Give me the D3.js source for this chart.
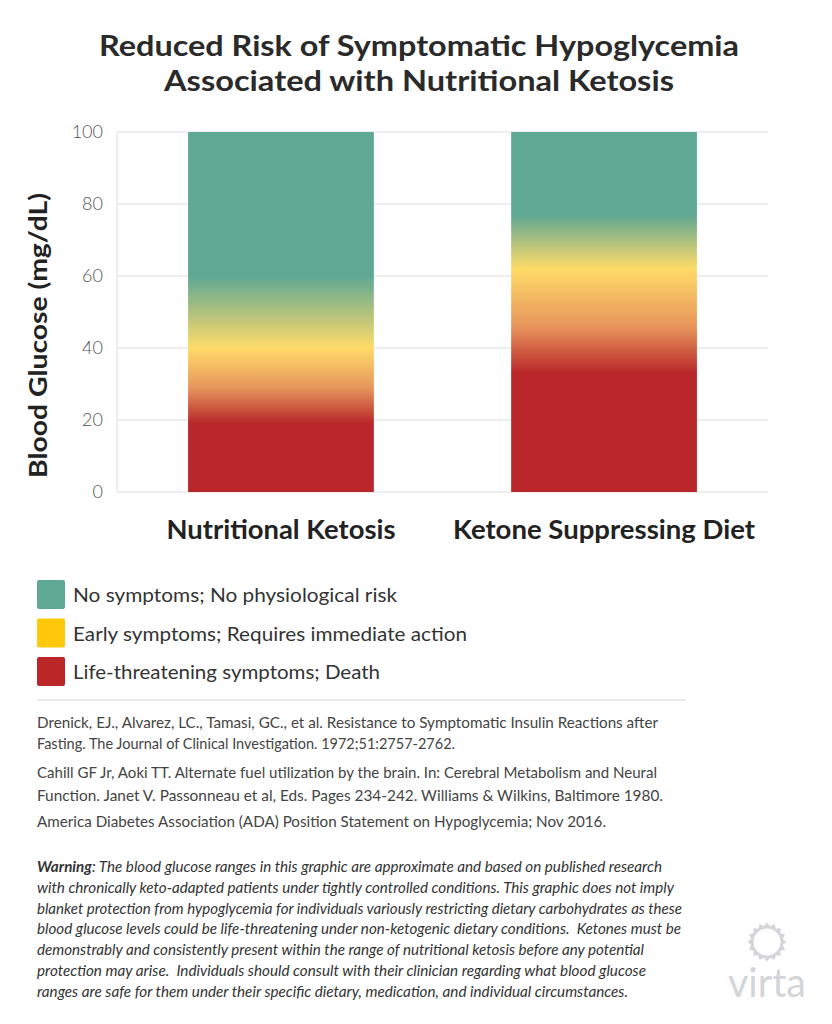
<!DOCTYPE html>
<html>
<head>
<meta charset="utf-8">
<script src="https://cdn.jsdelivr.net/npm/d3@7"></script>
<style>
  body { margin: 0; background: #fff; }
  svg { display: block; }
  text { white-space: pre; }
</style>
</head>
<body>
<svg id="chart" width="832" height="1024"></svg>
<script>
const titleLines = ["Reduced Risk of Symptomatic Hypoglycemia", "Associated with Nutritional Ketosis"];
const categories = ["Nutritional Ketosis", "Ketone Suppressing Diet"];
const barTop = [100, 100];
// glucose level where each zone colour is fully reached
const safeFrom = [60, 77];      // teal above this
const earlyAt = [40, 62];       // yellow peak
const warnAt = [29, 46];        // orange
const dangerBelow = [19, 33];   // red below this
const yTicks = [0, 20, 40, 60, 80, 100];
const yLabel = "Blood Glucose (mg/dL)";
const legendLabels = [
  "No symptoms; No physiological risk",
  "Early symptoms; Requires immediate action",
  "Life-threatening symptoms; Death"
];
const references = [
  ["Drenick, EJ., Alvarez, LC., Tamasi, GC., et al. Resistance to Symptomatic Insulin Reactions after",
   "Fasting. The Journal of Clinical Investigation. 1972;51:2757-2762."],
  ["Cahill GF Jr, Aoki TT. Alternate fuel utilization by the brain. In: Cerebral Metabolism and Neural",
   "Function. Janet V. Passonneau et al, Eds. Pages 234-242. Williams & Wilkins, Baltimore 1980."],
  ["America Diabetes Association (ADA) Position Statement on Hypoglycemia; Nov 2016."]
];
const warningLines = [
  ": The blood glucose ranges in this graphic are approximate and based on published research",
  "with chronically keto-adapted patients under tightly controlled conditions. This graphic does not imply",
  "blanket protection from hypoglycemia for individuals variously restricting dietary carbohydrates as these",
  "blood glucose levels could be life-threatening under non-ketogenic dietary conditions.  Ketones must be",
  "demonstrably and consistently present within the range of nutritional ketosis before any potential",
  "protection may arise.  Individuals should consult with their clinician regarding what blood glucose",
  "ranges are safe for them under their specific dietary, medication, and individual circumstances."
];

const colors = { safe: "#5fa894", early: "#ffdb68", warn: "#e8965c", danger: "#b9272a" };
const legendColors = ["#5fa894", "#ffc80a", "#bb2629"];

const svg = d3.select("#chart");
const font = "Lato, 'Open Sans', sans-serif";

// fit text to a measured width from the picture
function fit(sel, w) {
  sel.attr("textLength", w).attr("lengthAdjust", "spacingAndGlyphs");
}

// title
const titleWidths = [640, 510];
titleLines.forEach((t, i) => {
  svg.append("text")
    .attr("x", 419).attr("y", 56 + i * 35)
    .attr("text-anchor", "middle")
    .style("font-family", font).style("font-weight", 700).style("font-size", "29px")
    .style("fill", "#2a2a2a")
    .text(t)
    .call(fit, titleWidths[i]);
});

const x = d3.scaleBand().domain(categories).range([117, 768]).paddingInner(0.425).paddingOuter(0.22);
const y = d3.scaleLinear().domain([0, 100]).range([492, 132]);

// grid
svg.append("g")
  .selectAll("line")
  .data(yTicks)
  .join("line")
  .attr("x1", 117).attr("x2", 768)
  .attr("y1", d => y(d)).attr("y2", d => y(d))
  .attr("stroke", "#dedede").attr("stroke-width", 1);

svg.append("line")
  .attr("x1", 117).attr("x2", 117)
  .attr("y1", y(0)).attr("y2", y(100))
  .attr("stroke", "#dedede");

const yAxis = svg.append("g")
  .attr("transform", "translate(117,0)")
  .call(d3.axisLeft(y).tickValues(yTicks).tickSize(0).tickPadding(14));
yAxis.select(".domain").remove();
yAxis.selectAll("text")
  .style("font-family", font).style("font-weight", 300).style("font-size", "18px")
  .style("fill", "#555");

svg.append("text")
  .attr("transform", `translate(47,${(193 + 478) / 2}) rotate(-90)`)
  .attr("text-anchor", "middle")
  .style("font-family", font).style("font-weight", 700).style("font-size", "25px")
  .style("fill", "#222")
  .text(yLabel)
  .call(fit, 285);

// gradients per bar
const defs = svg.append("defs");
categories.forEach((c, i) => {
  const stops = [
    [barTop[i], colors.safe],
    [safeFrom[i], colors.safe],
    [earlyAt[i], colors.early],
    [warnAt[i], colors.warn],
    [dangerBelow[i], colors.danger],
    [0, colors.danger]
  ];
  defs.append("linearGradient")
    .attr("id", "grad" + i)
    .attr("gradientUnits", "userSpaceOnUse")
    .attr("x1", 0).attr("x2", 0)
    .attr("y1", y(100)).attr("y2", y(0))
    .selectAll("stop")
    .data(stops)
    .join("stop")
    .attr("offset", d => (100 - d[0]) / 100)
    .attr("stop-color", d => d[1]);
});

svg.append("g")
  .selectAll("rect")
  .data(categories)
  .join("rect")
  .attr("x", d => x(d))
  .attr("width", x.bandwidth())
  .attr("y", (d, i) => y(barTop[i]))
  .attr("height", (d, i) => y(0) - y(barTop[i]))
  .attr("fill", (d, i) => `url(#grad${i})`);

// x labels
const xLabelWidths = [229, 302];
svg.append("g")
  .selectAll("text")
  .data(categories)
  .join("text")
  .attr("x", d => x(d) + x.bandwidth() / 2)
  .attr("y", 539)
  .attr("text-anchor", "middle")
  .style("font-family", font).style("font-weight", 700).style("font-size", "27px")
  .style("fill", "#222")
  .text(d => d)
  .each(function (d, i) { d3.select(this).call(fit, xLabelWidths[i]); });

// legend
const legendWidths = [324, 394, 307];
const legend = svg.append("g")
  .selectAll("g")
  .data(legendLabels)
  .join("g")
  .attr("transform", (d, i) => `translate(37,${580 + i * 38.5})`);
legend.append("rect")
  .attr("width", 28).attr("height", 29).attr("rx", 2)
  .attr("fill", (d, i) => legendColors[i]);
legend.append("text")
  .attr("x", 36).attr("y", 22)
  .style("font-family", font).style("font-weight", 400).style("font-size", "20px")
  .style("fill", "#333")
  .text(d => d)
  .each(function (d, i) { d3.select(this).call(fit, legendWidths[i]); });

svg.append("line")
  .attr("x1", 37).attr("x2", 686).attr("y1", 700).attr("y2", 700)
  .attr("stroke", "#d8d8d8");

// references
const refWidths = [[621, 418], [620, 626], [569]];
const refY = [[728, 749], [778, 801], [827]];
references.forEach((ref, i) => {
  ref.forEach((line, j) => {
    svg.append("text")
      .attr("x", 37).attr("y", refY[i][j])
      .style("font-family", font).style("font-weight", 400).style("font-size", "15px")
      .style("fill", "#444")
      .text(line)
      .call(fit, refWidths[i][j]);
  });
});

// warning
const warnWidths = [625, 637, 645, 644, 607, 609, 591];
warningLines.forEach((line, i) => {
  const t = svg.append("text")
    .attr("x", 37).attr("y", 872 + i * 20.8)
    .style("font-family", font).style("font-style", "italic").style("font-size", "14.5px")
    .style("fill", "#333");
  if (i === 0) {
    t.append("tspan").style("font-weight", 700).text("Warning");
    t.append("tspan").text(line);
  } else {
    t.text(line);
  }
  t.call(fit, warnWidths[i]);
});

// virta logo
const logo = svg.append("g").attr("transform", "translate(767,942)");
const nPts = 16;
const starPts = d3.range(nPts * 2).map(k => {
  const a = (k / (nPts * 2)) * 2 * Math.PI;
  const r = k % 2 === 0 ? 19.5 : 16;
  return [a, r];
});
logo.append("path")
  .attr("d", d3.lineRadial().angle(d => d[0]).radius(d => d[1]).curve(d3.curveLinearClosed)(starPts))
  .attr("fill", "#d4d5d9");
logo.append("circle").attr("r", 13.5).attr("fill", "#fff");
svg.append("text")
  .attr("x", 767).attr("y", 997)
  .attr("text-anchor", "middle")
  .style("font-family", font).style("font-weight", 400).style("font-size", "40px")
  .style("fill", "#d4d5d9")
  .text("virta")
  .call(fit, 78);
</script>
</body>
</html>
